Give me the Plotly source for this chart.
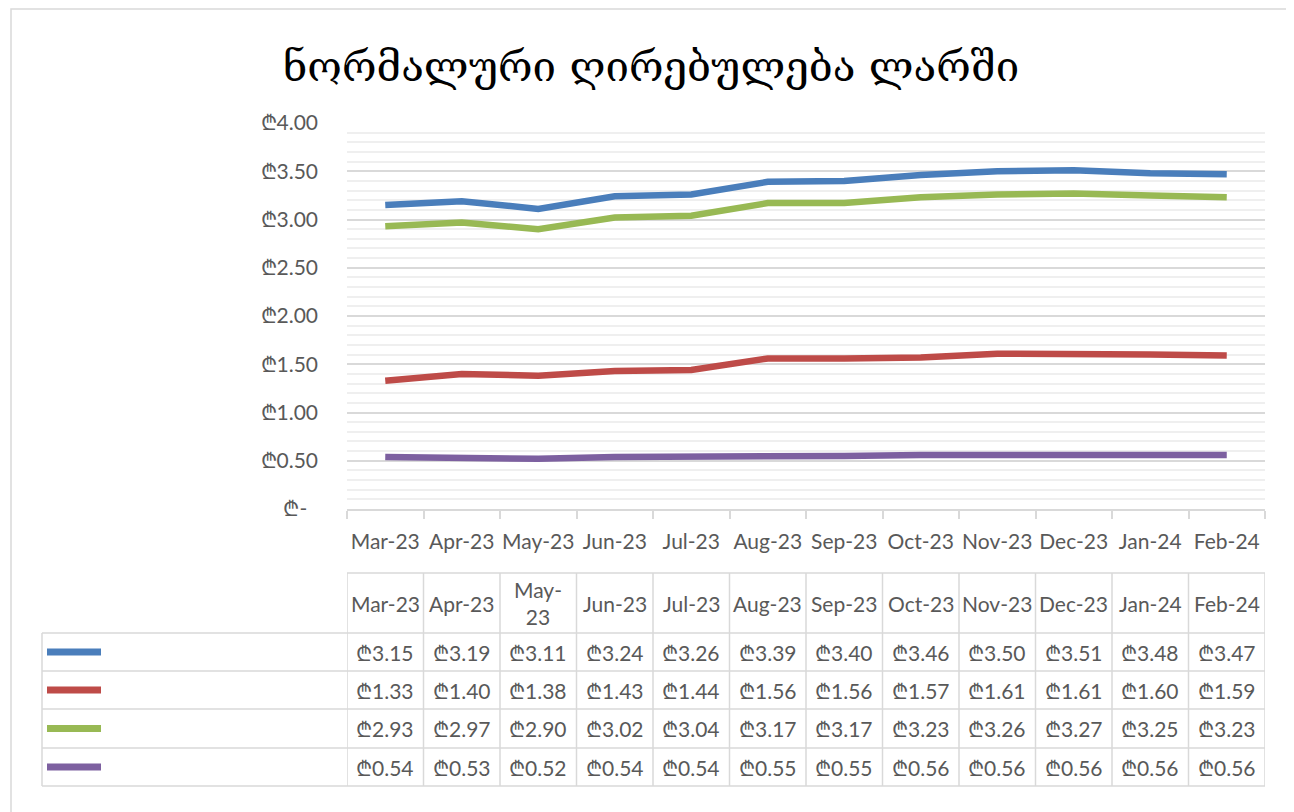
import plotly.graph_objects as go

title_text = "ნორმალური ღირებულება ლარში"
months = ["Mar-23", "Apr-23", "May-23", "Jun-23", "Jul-23", "Aug-23",
          "Sep-23", "Oct-23", "Nov-23", "Dec-23", "Jan-24", "Feb-24"]
header_labels = ["Mar-23", "Apr-23", "May-<br>23", "Jun-23", "Jul-23", "Aug-23",
                 "Sep-23", "Oct-23", "Nov-23", "Dec-23", "Jan-24", "Feb-24"]
series_blue = [3.15, 3.19, 3.11, 3.24, 3.26, 3.39, 3.40, 3.46, 3.50, 3.51, 3.48, 3.47]
series_red = [1.33, 1.40, 1.38, 1.43, 1.44, 1.56, 1.56, 1.57, 1.61, 1.61, 1.60, 1.59]
series_green = [2.93, 2.97, 2.90, 3.02, 3.04, 3.17, 3.17, 3.23, 3.26, 3.27, 3.25, 3.23]
series_purple = [0.54, 0.53, 0.52, 0.54, 0.54, 0.55, 0.55, 0.56, 0.56, 0.56, 0.56, 0.56]
y_tickvals = [0, 0.5, 1.0, 1.5, 2.0, 2.5, 3.0, 3.5, 4.0]
y_ticktext = ["₾-  ", "₾0.50", "₾1.00", "₾1.50", "₾2.00", "₾2.50", "₾3.00", "₾3.50", "₾4.00"]

series = [
    (series_blue, "#4A7EBB"),
    (series_red, "#BE4B48"),
    (series_green, "#98B954"),
    (series_purple, "#7D60A0"),
]

OFF = 8  # page body margin
SW, SH = 1294, 812  # screen size
W, H = SW - OFF, SH - OFF
L, R, T, B = 347 - OFF, SW - 1265, 123 - OFF, SH - 509
plot_h = H - T - B
plot_w = W - L - R

def py(p):  # screen pixel y -> paper y
    return (H - B - (p - OFF)) / plot_h

def px(p):  # screen pixel x -> paper x
    return (p - OFF - L) / plot_w

FONT = "Lato, 'Open Sans', sans-serif"
FS = 21
TXT = "#595959"
GRID = "#d9d9d9"

fig = go.Figure()
for vals, col in series:
    fig.add_trace(go.Scatter(x=months, y=vals, mode="lines",
                             line=dict(color=col, width=6.5),
                             showlegend=False, hoverinfo="skip"))

shapes = []
annotations = []

row_edges = [573, 633, 671, 709, 748, 786]
n = len(months)

for i in range(n + 1):
    shapes.append(dict(type="line", xref="x", yref="paper",
                       x0=i - 0.5, x1=i - 0.5, y0=py(row_edges[0]), y1=py(row_edges[-1]),
                       line=dict(color=GRID, width=1.5)))
shapes.append(dict(type="line", xref="x", yref="paper", x0=-0.5, x1=n - 0.5,
                   y0=py(row_edges[0]), y1=py(row_edges[0]), line=dict(color=GRID, width=1.5)))
for e in row_edges[1:]:
    shapes.append(dict(type="line", xref="paper", yref="paper", x0=px(42), x1=1,
                       y0=py(e), y1=py(e), line=dict(color=GRID, width=1.5)))
shapes.append(dict(type="line", xref="paper", yref="paper", x0=px(42), x1=px(42),
                   y0=py(row_edges[1]), y1=py(row_edges[-1]), line=dict(color=GRID, width=1.5)))

for i, lab in enumerate(header_labels):
    annotations.append(dict(x=months[i], xref="x", y=py((row_edges[0] + row_edges[1]) / 2),
                            yref="paper", text=lab, showarrow=False,
                            font=dict(family=FONT, size=FS, color=TXT),
                            xanchor="center", yanchor="middle"))

for r, (vals, col) in enumerate(series):
    yc = py((row_edges[r + 1] + row_edges[r + 2]) / 2)
    shapes.append(dict(type="line", xref="paper", yref="paper", x0=px(47), x1=px(101),
                       y0=yc, y1=yc, line=dict(color=col, width=7)))
    for i, v in enumerate(vals):
        annotations.append(dict(x=months[i], xref="x", y=yc, yref="paper",
                                text=f"₾{v:.2f}", showarrow=False,
                                font=dict(family=FONT, size=FS, color=TXT),
                                xanchor="center", yanchor="middle"))

# outer chart border
shapes.append(dict(type="rect", xref="paper", yref="paper", x0=px(11), x1=px(1292),
                   y0=py(830), y1=py(9), line=dict(color="#d9d9d9", width=1.5)))

fig.update_layout(
    width=W, height=H,
    margin=dict(l=L, r=R, t=T, b=B),
    paper_bgcolor="white", plot_bgcolor="white",
    title=dict(text=title_text, x=(651 - OFF) / W, xref="container", xanchor="center",
               y=1 - (66 - OFF) / H, yref="container", yanchor="middle",
               font=dict(family="'DejaVu Serif', serif", size=42, color="black")),
    shapes=shapes, annotations=annotations,
    xaxis=dict(type="category", range=[-0.5, n - 0.5], showgrid=False,
               showline=True, linecolor=GRID, linewidth=1.5,
               ticks="outside", tickson="boundaries", ticklen=8, tickcolor=GRID, tickwidth=1.5,
               tickangle=0,
               tickfont=dict(family=FONT, size=FS, color=TXT), ticklabelstandoff=13,
               fixedrange=True),
    yaxis=dict(range=[0, 4.0], tickvals=y_tickvals, ticktext=y_ticktext,
               showgrid=True, gridcolor=GRID, gridwidth=1.5, zeroline=False,
               showline=False, ticks="",
               tickfont=dict(family=FONT, size=FS, color=TXT), ticklabelstandoff=28,
               minor=dict(dtick=0.1, showgrid=True, gridcolor="#efefef", gridwidth=1.5),
               fixedrange=True),
)

fig.write_html("out.html")
